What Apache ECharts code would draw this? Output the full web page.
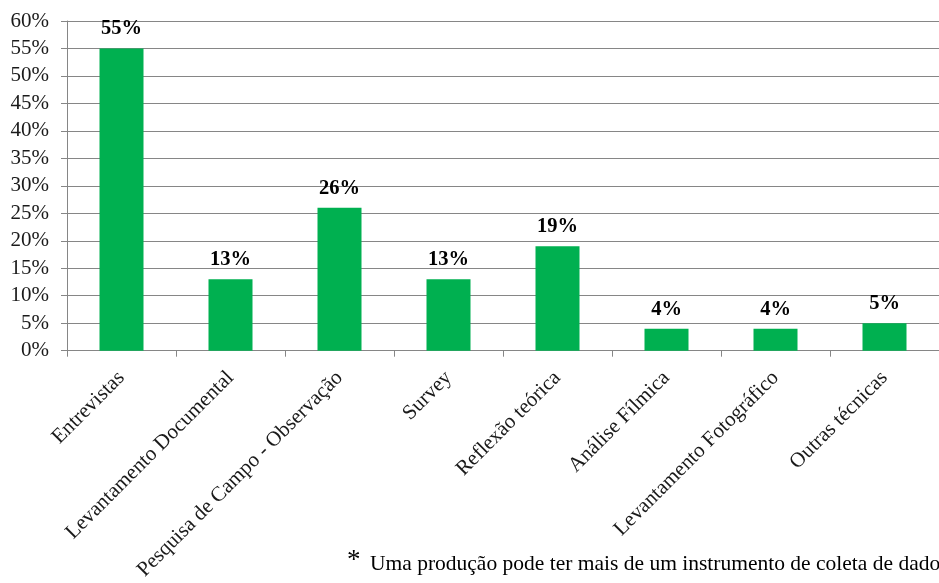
<!DOCTYPE html>
<html>
<head>
<meta charset="utf-8">
<script src="https://cdn.jsdelivr.net/npm/echarts@6/dist/echarts.min.js"></script>
<style>
  html, body { margin: 0; padding: 0; background: #ffffff; }
  #chart { width: 939px; height: 583px; }
</style>
</head>
<body>
<div id="chart"></div>
<script>
// Techniques used in the productions (share of productions, %)
const categories = [
  'Entrevistas',
  'Levantamento Documental',
  'Pesquisa de Campo - Observação',
  'Survey',
  'Reflexão teórica',
  'Análise Fílmica',
  'Levantamento Fotográfico',
  'Outras técnicas'
];
const shares = [55, 13, 26, 13, 19, 4, 4, 5];
const yTicks = { min: 0, max: 60, step: 5 };
const footnote = 'Uma produção pode ter mais de um instrumento de coleta de dados';

const serif = '"Liberation Serif", "DejaVu Serif", serif';
const chart = echarts.init(document.getElementById('chart'));

chart.setOption({
  animation: false,
  grid: { left: 67, top: 21, width: 880, height: 330, containLabel: false },
  xAxis: {
    type: 'category',
    data: categories,
    axisLine: { lineStyle: { color: '#868686', width: 1 } },
    axisTick: { show: true, alignWithLabel: false, length: 6, lineStyle: { color: '#868686' } },
    axisLabel: {
      interval: 0,
      rotate: 45,
      margin: 24,
      color: '#1a1a1a',
      fontFamily: serif,
      fontSize: 21
    }
  },
  yAxis: {
    type: 'value',
    min: yTicks.min,
    max: yTicks.max,
    interval: yTicks.step,
    axisLine: { show: true, lineStyle: { color: '#868686', width: 1 } },
    axisTick: { show: true, length: 6, lineStyle: { color: '#868686' } },
    splitLine: { lineStyle: { color: '#868686', width: 1 } },
    axisLabel: {
      formatter: '{value}%',
      margin: 18,
      color: '#1a1a1a',
      fontFamily: serif,
      fontSize: 21
    }
  },
  series: [{
    type: 'bar',
    data: shares,
    barWidth: 44,
    itemStyle: { color: '#00B050' },
    label: {
      show: true,
      position: 'top',
      distance: 9,
      formatter: p => p.value + '%',
      color: '#000000',
      fontFamily: serif,
      fontWeight: 'bold',
      fontSize: 20.5
    }
  }],
  graphic: [{
    type: 'text',
    left: 347,
    top: 547,
    style: {
      text: '*',
      font: '27px ' + serif,
      fill: '#000000'
    }
  }, {
    type: 'text',
    left: 370,
    top: 553,
    style: {
      text: footnote,
      font: '21.5px ' + serif,
      fill: '#000000'
    }
  }]
});
</script>
</body>
</html>
